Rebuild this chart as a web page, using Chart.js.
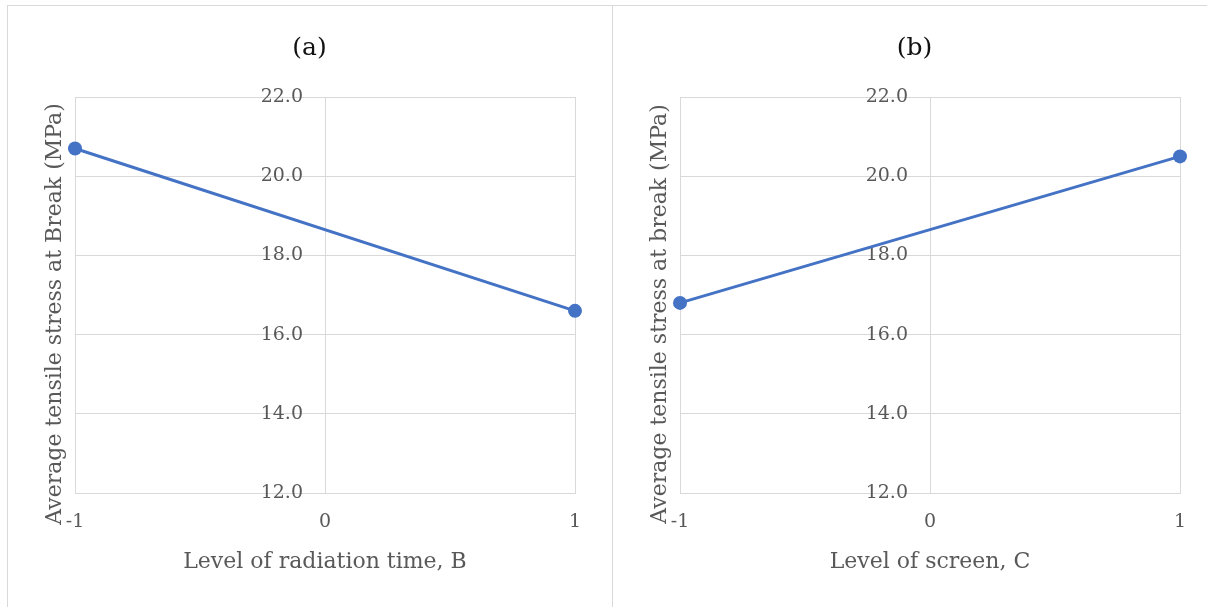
<!DOCTYPE html>
<html>
<head>
<meta charset="utf-8">
<script src="https://cdn.jsdelivr.net/npm/chart.js@4.4.1/dist/chart.umd.min.js"></script>
<style>
  html, body { margin: 0; padding: 0; background: #fff; }
  body { width: 1207px; height: 607px; position: relative; overflow: hidden; }
  .panel { position: absolute; top: 5px; height: 640px; border: 1px solid #d9d9d9; box-sizing: border-box; }
  #panelA { left: 7px; width: 606px; }
  #panelB { left: 612px; width: 640px; }
  .box { position: absolute; top: 5px; width: 605px; height: 602px; }
  #boxA { left: 7px; }
  #boxB { left: 612px; }
</style>
</head>
<body>
<div class="panel" id="panelA"></div>
<div class="panel" id="panelB"></div>
<div class="box" id="boxA"><canvas id="chartA" width="605" height="602"></canvas></div>
<div class="box" id="boxB"><canvas id="chartB" width="605" height="602"></canvas></div>
<script>
// coded factor levels on the x axis
const levels = ['-1', '0', '1'];
const runLevels = ['-1', '1'];

// average tensile stress at break (MPa) at each level
const stressRadiation = [20.7, 16.6];
const stressScreen = [16.8, 20.5];

// y axis range
const yMin = 12;
const yMax = 22;
const yStep = 2;

const lineColor = '#4472C4';
const gridColor = '#d9d9d9';
const textColor = '#595959';
const fontFamily = "'DejaVu Serif', serif";

Chart.defaults.font.family = fontFamily;

// vertical axis title, drawn left of the plot area and set a little low
const sideTitle = {
  id: 'sideTitle',
  afterDraw(chart, args, opts) {
    const { ctx, chartArea } = chart;
    ctx.save();
    ctx.translate(chartArea.left - opts.gap, (chartArea.top + chartArea.bottom) / 2 + opts.shift);
    ctx.rotate(-Math.PI / 2);
    ctx.font = opts.size + 'px ' + fontFamily;
    ctx.fillStyle = opts.color;
    ctx.textAlign = 'center';
    ctx.textBaseline = 'middle';
    ctx.fillText(opts.text, 0, 0);
    ctx.restore();
  }
};

function makeChart(canvasId, title, xTitle, yTitle, values) {
  return new Chart(document.getElementById(canvasId).getContext('2d'), {
    type: 'line',
    data: {
      labels: levels,
      datasets: [{
        data: values.map((v, i) => ({ x: runLevels[i], y: v })),
        borderColor: lineColor,
        backgroundColor: lineColor,
        borderWidth: 3,
        pointRadius: 7,
        pointBorderWidth: 0,
        pointBackgroundColor: lineColor,
        tension: 0,
        clip: false,
        yAxisID: 'y'
      }]
    },
    plugins: [sideTitle],
    options: {
      responsive: false,
      animation: false,
      layout: { padding: { left: 37, right: 37, top: 0, bottom: 0 } },
      plugins: {
        legend: { display: false },
        tooltip: { enabled: false },
        title: {
          display: true,
          text: title,
          color: '#111',
          font: { size: 25, weight: 'normal' },
          padding: { top: 28.5, bottom: 33.5 }
        },
        sideTitle: { text: yTitle, color: textColor, size: 22, gap: 20, shift: 19 }
      },
      scales: {
        x: {
          type: 'category',
          offset: false,
          grid: { color: gridColor, drawTicks: false, offset: false },
          border: { color: gridColor },
          ticks: { color: textColor, font: { size: 19, lineHeight: 1 }, padding: 19.5, maxRotation: 0 },
          title: {
            display: true,
            text: xTitle,
            color: textColor,
            font: { size: 22, lineHeight: 1 },
            padding: { top: 0, bottom: 34 }
          }
        },
        y: {
          position: 'center',
          min: yMin,
          max: yMax,
          grid: { color: gridColor, drawTicks: false },
          border: { color: gridColor },
          ticks: {
            stepSize: yStep,
            color: textColor,
            font: { size: 19 },
            padding: 22,
            callback: v => v.toFixed(1)
          }
        },
        // empty left axis that keeps room for the side title
        yRoom: {
          type: 'linear',
          position: 'left',
          min: yMin,
          max: yMax,
          grid: { display: false, drawTicks: false },
          border: { display: false },
          ticks: { display: false },
          afterFit: scale => { scale.width = 31; }
        }
      }
    }
  });
}

makeChart('chartA', '(a)', 'Level of radiation time, B',
  'Average tensile stress at Break (MPa)', stressRadiation);
makeChart('chartB', '(b)', 'Level of screen, C',
  'Average tensile stress at break (MPa)', stressScreen);
</script>
</body>
</html>
